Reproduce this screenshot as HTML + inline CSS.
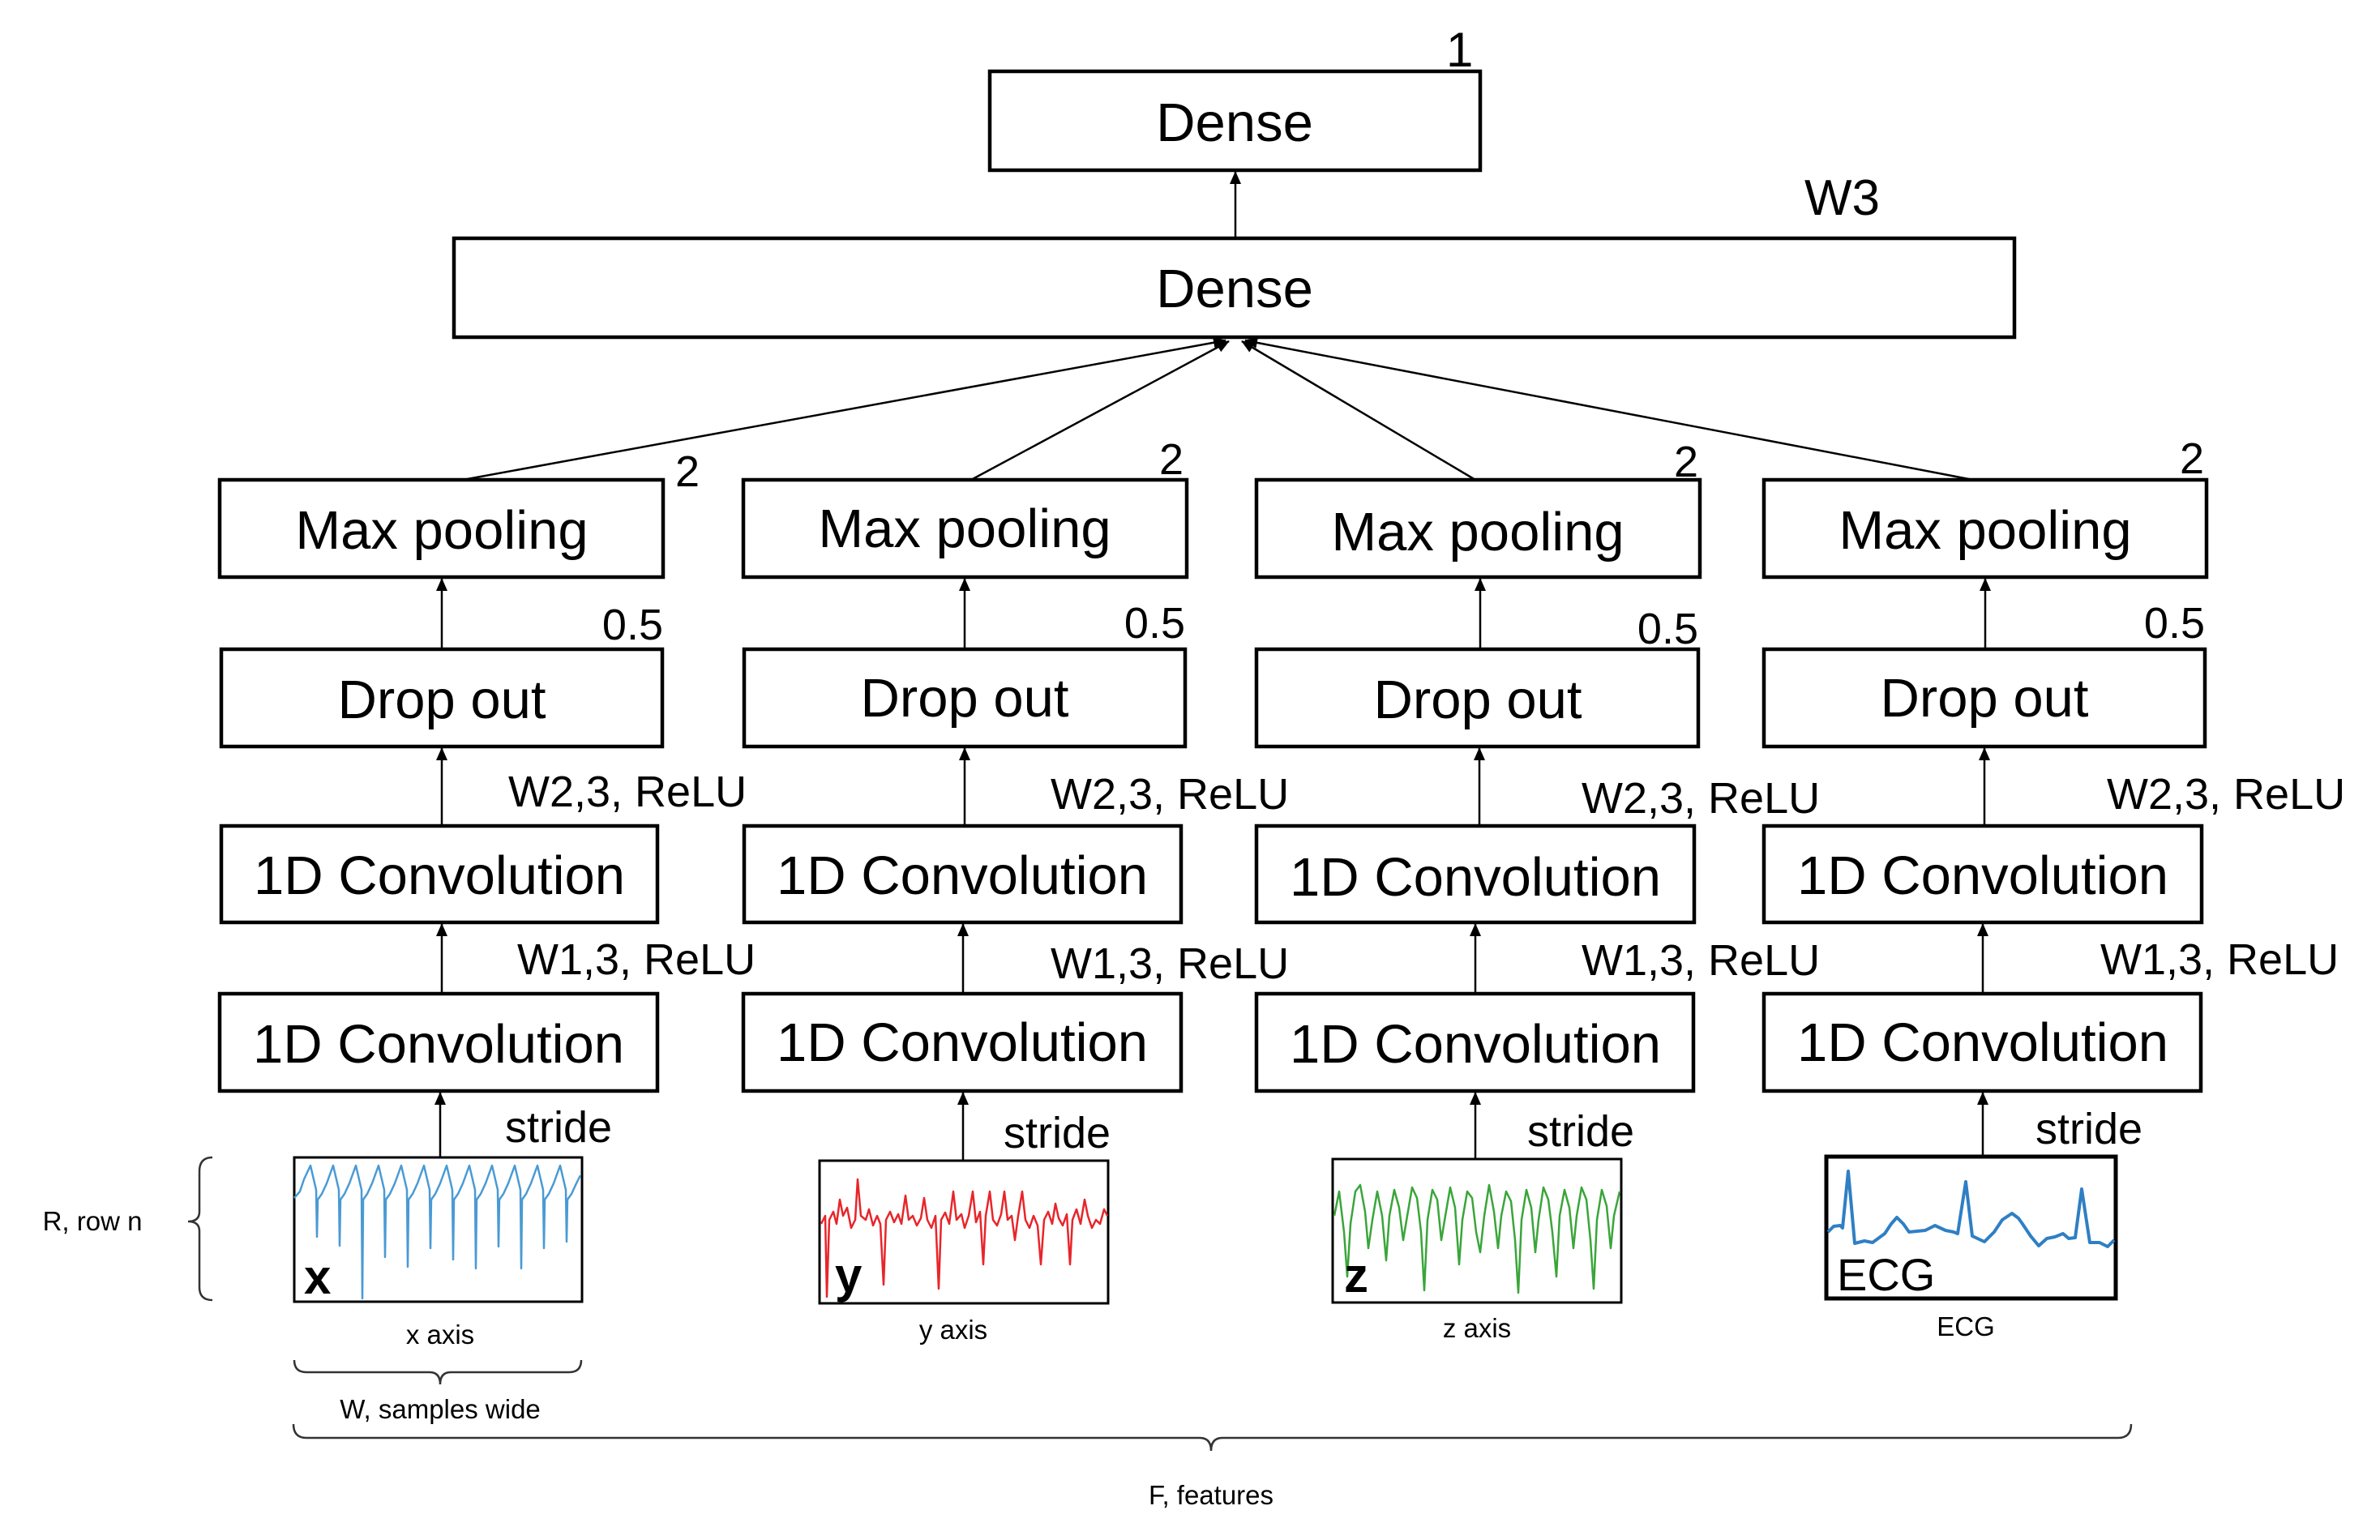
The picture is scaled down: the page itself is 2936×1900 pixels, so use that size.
<!DOCTYPE html>
<html><head><meta charset="utf-8"><style>
html,body{margin:0;padding:0;background:#fff;}
svg{display:block;}
text{font-family:"Liberation Sans",sans-serif;fill:#000;}
.b{font-size:67px;}
.l{font-size:54px;}
.s{font-size:33px;}
</style></head><body>
<svg width="2936" height="1900" viewBox="0 0 2936 1900" xmlns="http://www.w3.org/2000/svg">
<defs>
<marker id="ah" markerWidth="16" markerHeight="16" refX="15" refY="8" orient="auto" markerUnits="userSpaceOnUse" viewBox="0 0 16 16">
<path d="M0,1 L16,8 L0,15 z" fill="#000"/>
</marker>
</defs>
<rect width="2936" height="1900" fill="#fff"/>
<g fill="none" stroke="#000" stroke-width="4.5">
<rect x="1221" y="88" width="605" height="122"/>
<rect x="560" y="294" width="1925" height="122"/>
<rect x="271" y="592" width="547" height="120"/>
<rect x="917" y="592" width="547" height="120"/>
<rect x="1550" y="592" width="547" height="120"/>
<rect x="2176" y="592" width="546" height="120"/>
<rect x="273" y="801" width="544" height="120"/>
<rect x="918" y="801" width="544" height="120"/>
<rect x="1550" y="801" width="545" height="120"/>
<rect x="2176" y="801" width="544" height="120"/>
<rect x="273" y="1019" width="538" height="119"/>
<rect x="918" y="1019" width="539" height="119"/>
<rect x="1550" y="1019" width="540" height="119"/>
<rect x="2176" y="1019" width="540" height="119"/>
<rect x="271" y="1226" width="540" height="120"/>
<rect x="917" y="1226" width="540" height="120"/>
<rect x="1550" y="1226" width="539" height="120"/>
<rect x="2176" y="1226" width="539" height="120"/>
</g>
<g fill="none" stroke="#000" stroke-width="3">
<rect x="363" y="1428" width="355" height="178"/>
<rect x="1011" y="1432" width="356" height="176"/>
<rect x="1644" y="1430" width="356" height="177"/>
<rect x="2253" y="1427" width="357" height="175" stroke-width="5"/>
</g>
<g stroke="#000" stroke-width="2.5" marker-end="url(#ah)">
<line x1="1524" y1="294" x2="1524" y2="212"/>
<line x1="571" y1="592" x2="1512" y2="420"/>
<line x1="1198" y1="592" x2="1516" y2="421"/>
<line x1="1820" y1="592" x2="1532" y2="421"/>
<line x1="2434" y1="592" x2="1536" y2="420"/>
<line x1="545" y1="801" x2="545" y2="714"/>
<line x1="545" y1="1019" x2="545" y2="923"/>
<line x1="545" y1="1226" x2="545" y2="1140"/>
<line x1="543" y1="1428" x2="543" y2="1348"/>
<line x1="1190" y1="801" x2="1190" y2="714"/>
<line x1="1190" y1="1019" x2="1190" y2="923"/>
<line x1="1188" y1="1226" x2="1188" y2="1140"/>
<line x1="1188" y1="1432" x2="1188" y2="1348"/>
<line x1="1826" y1="801" x2="1826" y2="714"/>
<line x1="1825" y1="1019" x2="1825" y2="923"/>
<line x1="1820" y1="1226" x2="1820" y2="1140"/>
<line x1="1820" y1="1430" x2="1820" y2="1348"/>
<line x1="2449" y1="801" x2="2449" y2="714"/>
<line x1="2448" y1="1019" x2="2448" y2="923"/>
<line x1="2446" y1="1226" x2="2446" y2="1140"/>
<line x1="2446" y1="1427" x2="2446" y2="1348"/>
</g>
<g text-anchor="middle">
<text x="1523" y="174" class="b">Dense</text>
<text x="1523" y="379" class="b">Dense</text>
<text x="545" y="677" class="b">Max pooling</text>
<text x="1190" y="675" class="b">Max pooling</text>
<text x="1823" y="679" class="b">Max pooling</text>
<text x="2449" y="677" class="b">Max pooling</text>
<text x="545" y="886" class="b">Drop out</text>
<text x="1190" y="884" class="b">Drop out</text>
<text x="1823" y="886" class="b">Drop out</text>
<text x="2448" y="884" class="b">Drop out</text>
<text x="542" y="1103" class="b">1D Convolution</text>
<text x="1187" y="1103" class="b">1D Convolution</text>
<text x="1820" y="1105" class="b">1D Convolution</text>
<text x="2446" y="1103" class="b">1D Convolution</text>
<text x="541" y="1311" class="b">1D Convolution</text>
<text x="1187" y="1309" class="b">1D Convolution</text>
<text x="1820" y="1311" class="b">1D Convolution</text>
<text x="2446" y="1309" class="b">1D Convolution</text>
</g>
<g>
<text x="1784" y="82" style="font-size:60px">1</text>
<text x="2226" y="265" style="font-size:62px">W3</text>
<text x="833" y="600" class="l">2</text>
<text x="1430" y="585" class="l">2</text>
<text x="2065" y="588" class="l">2</text>
<text x="2689" y="584" class="l">2</text>
<text x="818" y="789" text-anchor="end" class="l">0.5</text>
<text x="1462" y="787" text-anchor="end" class="l">0.5</text>
<text x="2095" y="794" text-anchor="end" class="l">0.5</text>
<text x="2720" y="787" text-anchor="end" class="l">0.5</text>
<text x="627" y="995" class="l">W2,3, ReLU</text>
<text x="1296" y="998" class="l">W2,3, ReLU</text>
<text x="1951" y="1003" class="l">W2,3, ReLU</text>
<text x="2599" y="998" class="l">W2,3, ReLU</text>
<text x="638" y="1202" class="l">W1,3, ReLU</text>
<text x="1296" y="1207" class="l">W1,3, ReLU</text>
<text x="1951" y="1203" class="l">W1,3, ReLU</text>
<text x="2591" y="1202" class="l">W1,3, ReLU</text>
<text x="623" y="1409" class="l">stride</text>
<text x="1238" y="1416" class="l">stride</text>
<text x="1884" y="1414" class="l">stride</text>
<text x="2511" y="1411" class="l">stride</text>
</g>
<g fill="none" stroke-width="2.5" stroke-linejoin="round">
<path stroke="#4a9ad4" d="M363,1478 L370,1470 L375,1455 L383,1438 L390,1468 L391,1526 L392,1480 L397,1473 L403,1460 L411,1438 L418,1468 L419,1537 L420,1480 L425,1473 L431,1460 L439,1438 L446,1468 L447,1602 L448,1480 L453,1473 L459,1460 L467,1438 L474,1468 L475,1551 L476,1480 L481,1473 L487,1460 L495,1438 L502,1468 L503,1563 L504,1480 L509,1473 L515,1460 L523,1438 L530,1468 L531,1540 L532,1480 L537,1473 L543,1460 L551,1438 L558,1468 L559,1554 L560,1480 L565,1473 L571,1460 L579,1438 L586,1468 L587,1565 L588,1480 L593,1473 L599,1460 L607,1438 L614,1468 L615,1538 L616,1480 L621,1473 L627,1460 L635,1438 L642,1468 L643,1565 L644,1480 L649,1473 L655,1460 L663,1438 L670,1468 L671,1540 L672,1480 L677,1473 L683,1460 L691,1438 L698,1468 L699,1532 L700,1480 L705,1473 L711,1460 L716,1450"/>
<path stroke="#e8252a" d="M1013,1510 L1018,1500 L1020,1600 L1023,1505 L1028,1495 L1032,1510 L1036,1480 L1040,1500 L1045,1490 L1050,1515 L1055,1505 L1058,1455 L1062,1500 L1068,1505 L1072,1492 L1077,1512 L1082,1500 L1086,1510 L1090,1585 L1093,1505 L1098,1495 L1103,1508 L1108,1498 L1112,1510 L1117,1475 L1121,1505 L1126,1500 L1131,1512 L1136,1503 L1140,1478 L1144,1505 L1149,1515 L1154,1500 L1158,1590 L1161,1505 L1166,1496 L1171,1510 L1176,1470 L1180,1505 L1186,1498 L1190,1515 L1195,1500 L1200,1470 L1204,1508 L1209,1495 L1213,1560 L1216,1500 L1221,1470 L1225,1505 L1230,1512 L1235,1498 L1239,1470 L1243,1505 L1248,1500 L1252,1530 L1256,1500 L1261,1470 L1265,1505 L1270,1515 L1275,1500 L1280,1512 L1284,1560 L1288,1505 L1293,1495 L1298,1510 L1302,1485 L1306,1503 L1311,1512 L1316,1498 L1320,1560 L1323,1505 L1328,1492 L1333,1510 L1338,1480 L1342,1500 L1347,1515 L1352,1505 L1357,1510 L1362,1492 L1366,1500"/>
<path stroke="#3aa53a" d="M1646,1500 L1652,1470 L1658,1520 L1662,1575 L1666,1510 L1672,1470 L1678,1462 L1684,1495 L1688,1540 L1693,1505 L1699,1470 L1705,1500 L1710,1555 L1714,1500 L1720,1468 L1726,1490 L1731,1530 L1736,1500 L1742,1465 L1748,1478 L1753,1520 L1757,1592 L1761,1505 L1767,1468 L1773,1480 L1778,1530 L1783,1500 L1789,1465 L1795,1490 L1800,1560 L1804,1505 L1810,1470 L1816,1478 L1821,1520 L1826,1545 L1831,1500 L1837,1462 L1843,1495 L1848,1540 L1852,1500 L1858,1470 L1864,1482 L1869,1530 L1873,1595 L1877,1505 L1883,1468 L1889,1490 L1894,1545 L1898,1505 L1904,1465 L1910,1480 L1915,1520 L1920,1575 L1924,1500 L1930,1468 L1936,1490 L1941,1540 L1945,1500 L1951,1465 L1957,1480 L1962,1530 L1966,1590 L1970,1505 L1976,1468 L1982,1488 L1987,1540 L1991,1500 L1998,1470"/>
<path stroke="#2f7fc4" stroke-width="4" d="M2255,1520 L2262,1513 L2270,1512 L2273,1515 L2280,1445 L2288,1534 L2300,1531 L2310,1533 L2325,1522 L2333,1510 L2340,1502 L2348,1510 L2355,1520 L2375,1518 L2387,1512 L2400,1518 L2410,1520 L2415,1522 L2425,1458 L2433,1525 L2448,1532 L2460,1520 L2470,1505 L2482,1497 L2490,1503 L2495,1510 L2505,1525 L2515,1537 L2525,1528 L2535,1526 L2545,1522 L2552,1528 L2560,1527 L2568,1467 L2578,1533 L2590,1533 L2600,1538 L2608,1530"/>
</g>
<text x="375" y="1596" style="font-size:60px;font-weight:bold">x</text>
<text x="1030" y="1594" style="font-size:60px;font-weight:bold">y</text>
<text x="1658" y="1594" style="font-size:60px;font-weight:bold">z</text>
<text x="2266" y="1592" style="font-size:56px">ECG</text>
<g text-anchor="middle">
<text x="543" y="1658" class="s">x axis</text>
<text x="1176" y="1652" class="s">y axis</text>
<text x="1822" y="1650" class="s">z axis</text>
<text x="2425" y="1648" class="s">ECG</text>
<text x="543" y="1750" class="s">W, samples wide</text>
<text x="1494" y="1856" class="s">F, features</text>
<text x="114" y="1518" class="s">R, row n</text>
</g>
<g fill="none" stroke="#333" stroke-width="2.5">
<path d="M262,1428 Q246,1428 246,1445 L246,1495 Q246,1507 232,1507 Q246,1507 246,1519 L246,1588 Q246,1604 262,1604"/>
<path d="M363,1678 Q363,1693 378,1693 L530,1693 Q543,1693 543,1708 Q543,1693 556,1693 L702,1693 Q717,1693 717,1678"/>
<path d="M362,1757 Q362,1774 378,1774 L1480,1774 Q1494,1774 1494,1790 Q1494,1774 1508,1774 L2613,1774 Q2629,1774 2629,1757"/>
</g>
</svg>
</body></html>
